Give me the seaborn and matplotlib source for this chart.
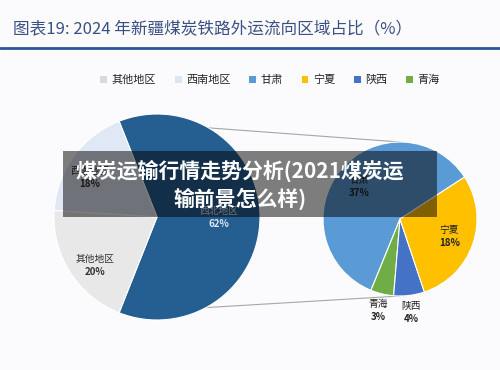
import numpy as np
import matplotlib
matplotlib.use("Agg")
import matplotlib.pyplot as plt
from matplotlib.patches import Rectangle, Patch
import seaborn as sns

# ---- data ----
regions = ["西北地区", "西南地区", "其他地区"]
region_share = [62, 18, 20]
nw_provinces = ["甘肃", "青海", "陕西", "宁夏"]
nw_share = [37, 3, 4, 18]
legend_labels = ["其他地区", "西南地区", "甘肃", "宁夏", "陕西", "青海"]
title = "图表19: 2024 年新疆煤炭铁路外运流向区域占比（%）"
overlay = "煤炭运输行情走势分析(2021煤炭运\n输前景怎么样)"

# ---- style ----
sns.set_theme(style="white")
plt.rcParams["font.family"] = ["Noto Sans CJK SC", "DejaVu Sans"]

region_colors = {"西北地区": "#255e91", "西南地区": "#dfe8f4", "其他地区": "#e8e8e9"}
prov_colors = {"甘肃": "#5b9bd5", "青海": "#70ad47", "陕西": "#4472c4", "宁夏": "#ffc000"}
legend_colors = {"其他地区": "#d9d9d9", "西南地区": "#dce6f2", **prov_colors}

fig = plt.figure(figsize=(5, 3.7), dpi=100)
fig.patch.set_facecolor("#fbfbfd")
ax = fig.add_axes([0, 0, 1, 1])

L_c, L_r = (157, 153), 103
R_c, R_r = (400, 151), 77

tot = sum(region_share)
startL = -region_share[0] / tot * 360 / 2
wL, _ = ax.pie(region_share, colors=[region_colors[r] for r in regions],
               startangle=startL, center=L_c, radius=L_r,
               wedgeprops=dict(edgecolor="white", linewidth=0.8))
wR, _ = ax.pie(nw_share, colors=[prov_colors[p] for p in nw_provinces],
               startangle=33, center=R_c, radius=R_r,
               wedgeprops=dict(edgecolor="white", linewidth=0.8))


def put_label(w, c, r, name, val, d, color, dth=0.0):
    th = np.deg2rad((w.theta1 + w.theta2) / 2 + dth)
    x = c[0] + d * r * np.cos(th)
    y = c[1] + d * r * np.sin(th)
    ax.text(x, y + 6, name, ha="center", va="center", fontsize=7, color=color, zorder=5)
    ax.text(x, y - 7, f"{val}%", ha="center", va="center", fontsize=7,
            fontweight="bold", color=color, zorder=5)


for w, n, v in zip(wL, regions, region_share):
    big = v > 50
    put_label(w, L_c, L_r, n, v, 0.6 if big else 0.76,
              "#dde4ee" if big else "#333333", 0 if big else 5)
for w, n, v in zip(wR, nw_provinces, nw_share):
    d = 0.68 if v >= 5 else 1.22
    put_label(w, R_c, R_r, n, v, d, "#222222")

# connector lines
a = np.deg2rad(region_share[0] / tot * 180)
for s in (1, -1):
    p = (L_c[0] + L_r * np.cos(a), L_c[1] + s * L_r * np.sin(a))
    q = (R_c[0], R_c[1] + s * R_r)
    ax.plot([p[0], q[0]], [p[1], q[1]], color="#a6a6a6", lw=0.8, zorder=0)

ax.set_xlim(0, 500)
ax.set_ylim(0, 370)
ax.set_aspect("equal")
ax.axis("off")

# title and rule
ax.text(13, 340, title, ha="left", va="center", fontsize=12, color="#3b5083")
ax.plot([0, 500], [322.5, 322.5], color="#2c5596", lw=2)

# legend
handles = [Patch(facecolor=legend_colors[l], edgecolor="none") for l in legend_labels]
fig.legend(handles, legend_labels, loc="center", bbox_to_anchor=(270 / 500, 1 - 80 / 370),
           ncol=6, frameon=False, fontsize=8, handlelength=0.6, handleheight=0.6,
           handletextpad=0.4, columnspacing=1.7)

# overlay banner
ax.add_patch(Rectangle((63, 153), 374, 66, facecolor="black", alpha=0.5,
                       edgecolor="none", zorder=10))
ax.text(240, 185, overlay, ha="center", va="center", color="white", fontsize=15,
        fontweight="bold", linespacing=1.3, zorder=11)

fig.savefig("out.png", dpi=100, facecolor=fig.get_facecolor())
